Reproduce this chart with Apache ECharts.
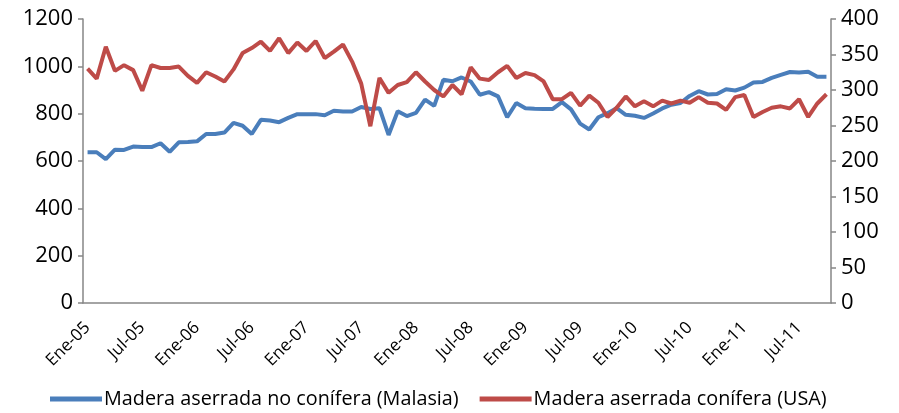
<!DOCTYPE html>
<html>
<head>
<meta charset="utf-8">
<script src="https://cdn.jsdelivr.net/npm/echarts@6/dist/echarts.min.js"></script>
<style>
  html, body { margin: 0; padding: 0; background: #fff; }
  #chart { width: 899px; height: 413px; }
</style>
</head>
<body>
<div id="chart"></div>
<script>
// meses Ene-05 .. Oct-11
const monthNames = ['Ene', 'Feb', 'Mar', 'Abr', 'May', 'Jun', 'Jul', 'Ago', 'Sep', 'Oct', 'Nov', 'Dic']
const years = ['05', '06', '07', '08', '09', '10', '11']
const categories = []
years.forEach(y => monthNames.forEach(m => categories.push(m + '-' + y)))
categories.length = 82

// Madera aserrada no conífera (Malasia) - eje izquierdo
const malasia = [
  637, 637, 608, 648, 647, 661, 659, 659, 675, 639, 679, 680,
  683, 714, 714, 720, 761, 749, 714, 774, 771, 764, 782, 798,
  798, 798, 793, 812, 809, 809, 828, 820, 823, 710, 810, 790,
  803, 859, 833, 943, 937, 953, 936, 880, 891, 873, 785, 845,
  823, 821, 820, 820, 849, 818, 758, 733, 785, 802, 823, 795,
  791, 782, 801, 822, 838, 845, 875, 895, 881, 883, 903, 898,
  910, 932, 934, 951, 964, 976, 974, 977, 956, 956
]

// Madera aserrada conífera (USA) - eje derecho
const usa = [
  330, 316, 361, 327, 335, 328, 299, 335, 331, 331, 333, 320,
  310, 325, 319, 312, 329, 352, 359, 368, 355, 373, 352, 367,
  355, 369, 345, 354, 364, 340, 309, 249, 317, 296, 307, 311,
  325, 312, 300, 291, 307, 294, 332, 316, 314, 325, 334, 317,
  324, 321, 312, 287, 287, 296, 278, 292, 282, 262, 275, 291,
  277, 284, 277, 285, 281, 285, 282, 290, 282, 281, 272, 290,
  293, 262, 269, 275, 277, 274, 287, 262, 281, 294
]

const font = '"Open Sans", "Liberation Sans", sans-serif'
const axisGray = '#868686'

const chart = echarts.init(document.getElementById('chart'), null, { renderer: 'canvas' })

const option = {
  animation: false,
  grid: { left: 83, right: 68, top: 19, bottom: 110, containLabel: false },
  legend: {
    bottom: 4,
    left: 50,
    padding: 0,
    itemWidth: 52,
    itemHeight: 5,
    itemGap: 21,
    icon: 'rect',
    textStyle: { fontFamily: font, fontSize: 19.8, color: '#000', padding: [0, 0, 0, -3] },
    data: ['Madera aserrada no conífera (Malasia)', 'Madera aserrada conífera (USA)'],
  },
  xAxis: {
    type: 'category',
    data: categories,
    boundaryGap: true,
    axisLine: { lineStyle: { color: axisGray, width: 1.5 } },
    axisTick: { interval: 5, length: 5, lineStyle: { color: axisGray, width: 1.5 } },
    axisLabel: {
      interval: 5,
      rotate: 45,
      margin: 22,
      fontFamily: font,
      fontSize: 17,
      color: '#000',
    },
    splitLine: { show: false },
  },
  yAxis: [
    {
      type: 'value',
      min: 0,
      max: 1200,
      interval: 200,
      position: 'left',
      axisLine: { show: true, lineStyle: { color: axisGray, width: 1.5 } },
      axisTick: { show: true, length: 5, lineStyle: { color: axisGray, width: 1.5 } },
      axisLabel: { fontFamily: font, fontSize: 22, color: '#000', margin: 10, formatter: v => String(v) },
      splitLine: { show: false },
    },
    {
      type: 'value',
      min: 0,
      max: 400,
      interval: 50,
      position: 'right',
      axisLine: { show: true, lineStyle: { color: axisGray, width: 1.5 } },
      axisTick: { show: true, length: 5, lineStyle: { color: axisGray, width: 1.5 } },
      axisLabel: { fontFamily: font, fontSize: 22, color: '#000', margin: 10, formatter: v => String(v) },
      splitLine: { show: false },
    },
  ],
  series: [
    {
      name: 'Madera aserrada no conífera (Malasia)',
      type: 'line',
      yAxisIndex: 0,
      data: malasia,
      showSymbol: false,
      itemStyle: { color: '#4A7EBB' },
      lineStyle: { width: 4, color: '#4A7EBB' },
    },
    {
      name: 'Madera aserrada conífera (USA)',
      type: 'line',
      yAxisIndex: 1,
      data: usa,
      showSymbol: false,
      itemStyle: { color: '#BE4B48' },
      lineStyle: { width: 4, color: '#BE4B48' },
    },
  ],
}

chart.setOption(option)
</script>
</body>
</html>
